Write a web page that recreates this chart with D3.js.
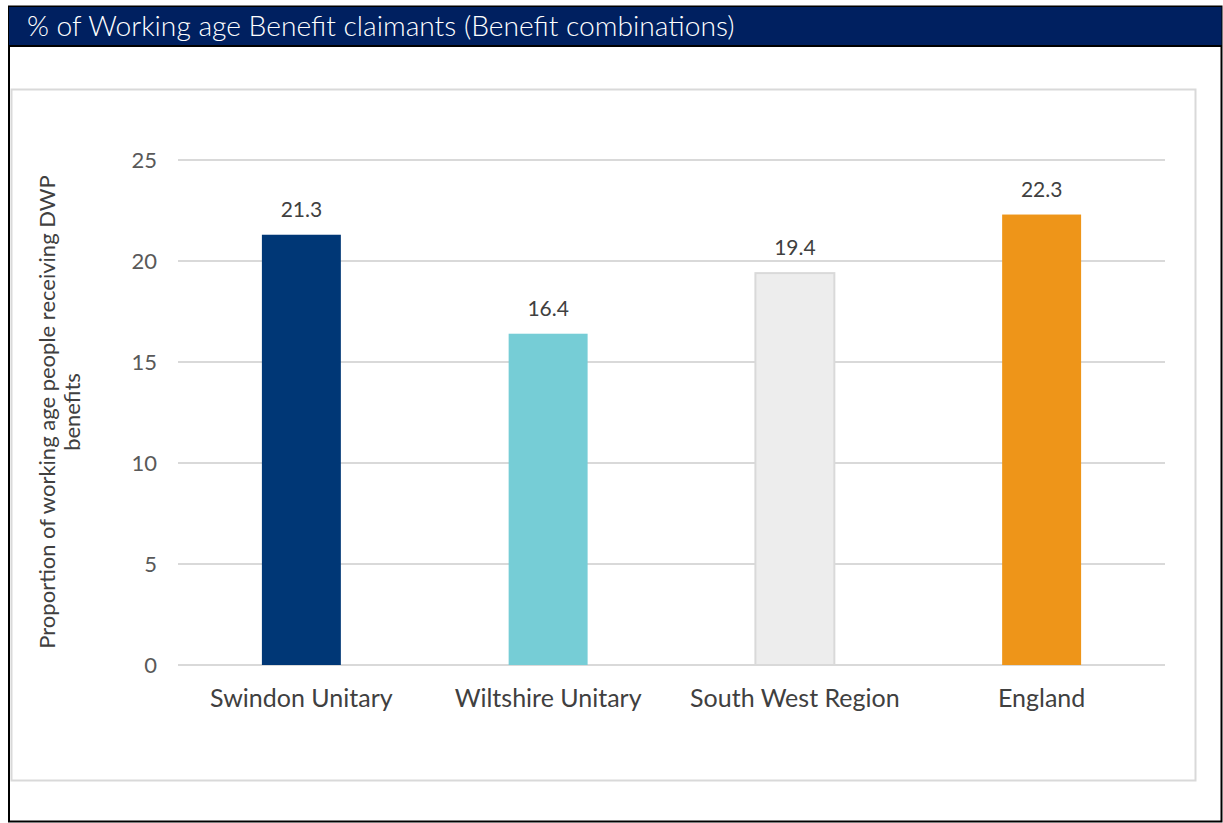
<!DOCTYPE html>
<html><head><meta charset="utf-8">
<script src="https://cdn.jsdelivr.net/npm/d3@7"></script>
<style>
html,body{margin:0;padding:0;background:#fff;}
svg{display:block;}
</style></head>
<body>
<svg id="c" width="1223" height="823"></svg>
<script>
const title = "% of Working age Benefit claimants (Benefit combinations)";
const categories = ["Swindon Unitary", "Wiltshire Unitary", "South West Region", "England"];
const values = [21.3, 16.4, 19.4, 22.3];
const barColors = ["#003776", "#76CDD6", "#EDEDED", "#EE9519"];
const barStrokes = ["none", "none", "#D9D9D9", "none"];
const yTicks = [0, 5, 10, 15, 20, 25];
const yTitleLines = ["Proportion of working age people receiving DWP", "benefits"];

const svg = d3.select("#c");
const font = "Lato, 'Open Sans', sans-serif";

// outer frame
svg.append("rect").attr("x", 9).attr("y", 6.5).attr("width", 1212.5).attr("height", 815)
  .attr("fill", "#fff").attr("stroke", "#000").attr("stroke-width", 2);
// header band
svg.append("rect").attr("x", 9).attr("y", 7).attr("width", 1212.5).attr("height", 38).attr("fill", "#002060");
svg.append("line").attr("x1", 9).attr("x2", 1222).attr("y1", 46).attr("y2", 46).attr("stroke", "#000").attr("stroke-width", 2);
svg.append("text").attr("x", 27).attr("y", 36).attr("fill", "#fff")
  .attr("font-family", font).attr("font-weight", 300).attr("font-size", 28.2).text(title);

// chart area border
svg.append("rect").attr("x", 11.5).attr("y", 89.5).attr("width", 1184).attr("height", 691)
  .attr("fill", "#fff").attr("stroke", "#D9D9D9").attr("stroke-width", 2);

const pLeft = 178, pRight = 1165, pTop = 160, pBottom = 665;
const x = d3.scaleBand().domain(categories).range([pLeft, pRight]).paddingInner(0.68).paddingOuter(0.34);
const y = d3.scaleLinear().domain([0, 25]).range([pBottom, pTop]);

// gridlines
svg.append("g").selectAll("line").data(yTicks).join("line")
  .attr("x1", pLeft).attr("x2", pRight)
  .attr("y1", d => y(d)).attr("y2", d => y(d))
  .attr("stroke", "#D9D9D9").attr("stroke-width", 2);

// y axis labels
const yAxis = svg.append("g").attr("transform", `translate(${pLeft},0)`)
  .call(d3.axisLeft(y).tickValues(yTicks).tickSize(0).tickPadding(21));
yAxis.select(".domain").remove();
yAxis.selectAll("text").attr("font-family", font).attr("font-size", 22).attr("fill", "#595959");

// bars
svg.append("g").selectAll("rect").data(values).join("rect")
  .attr("x", (d, i) => x(categories[i]))
  .attr("y", d => y(d))
  .attr("width", x.bandwidth())
  .attr("height", d => y(0) - y(d))
  .attr("fill", (d, i) => barColors[i])
  .attr("stroke", (d, i) => barStrokes[i])
  .attr("stroke-width", 2);

// value labels
svg.append("g").selectAll("text").data(values).join("text")
  .attr("x", (d, i) => x(categories[i]) + x.bandwidth() / 2)
  .attr("y", d => y(d) - 18)
  .attr("text-anchor", "middle")
  .attr("font-family", font).attr("font-size", 21).attr("fill", "#404040")
  .text(d => d.toFixed(1));

// x axis labels
const xAxis = svg.append("g").attr("transform", `translate(0,${pBottom})`)
  .call(d3.axisBottom(x).tickSize(0).tickPadding(24));
xAxis.select(".domain").remove();
xAxis.selectAll("text").attr("font-family", font).attr("font-size", 25).attr("fill", "#404040");

// y title
const yt = svg.append("text").attr("transform", "translate(0,412) rotate(-90)")
  .attr("text-anchor", "middle").attr("font-family", font).attr("font-size", 22).attr("fill", "#404040");
yTitleLines.forEach((t, i) => {
  yt.append("tspan").attr("x", 0).attr("y", 55 + i * 25).text(t);
});
</script>
</body></html>
